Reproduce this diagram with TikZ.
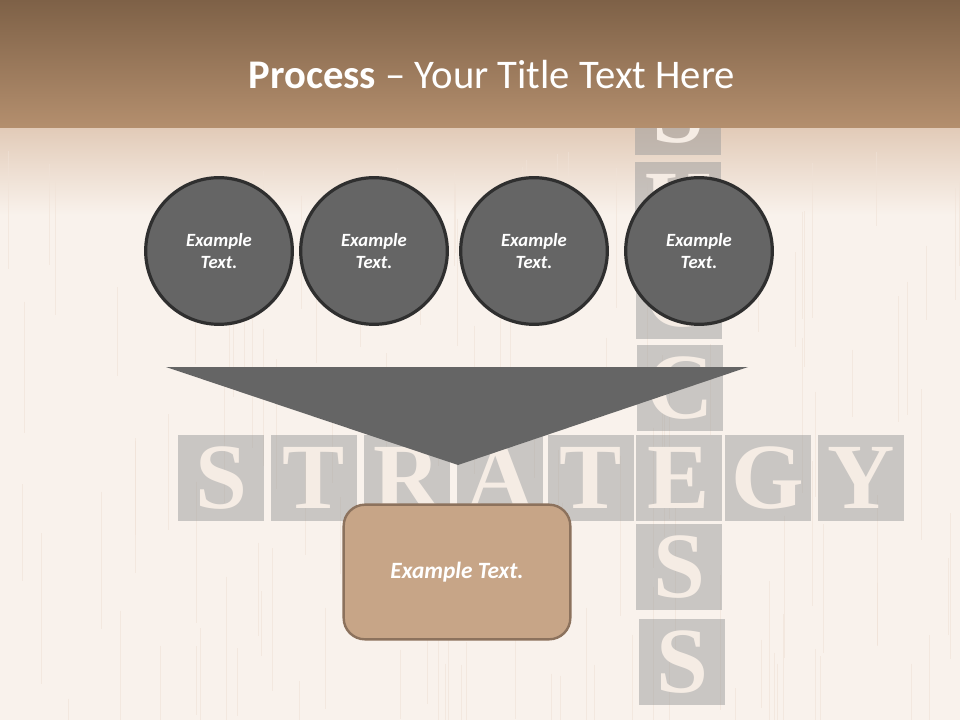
\documentclass[tikz,border=0pt]{standalone}
\usepackage{fontspec}
\setmainfont{Carlito}
\newfontfamily\tilefont{Liberation Serif}
\usetikzlibrary{positioning}
\definecolor{bgcream}{HTML}{F9F2EC}
\definecolor{grain}{HTML}{F0E2D7}
\definecolor{headtop}{HTML}{7E6147}
\definecolor{headbot}{HTML}{B48F6E}
\definecolor{shadetop}{HTML}{E2CBB8}
\definecolor{tilegray}{HTML}{9B9B9B}
\definecolor{lettercream}{HTML}{F5ECE4}
\definecolor{circfill}{HTML}{656565}
\definecolor{circline}{HTML}{2F2F2F}
\definecolor{boxfill}{HTML}{C7A587}
\definecolor{boxline}{HTML}{8C725D}
\tikzset{
  tile/.style={fill=tilegray, fill opacity=0.5, text opacity=1, text=lettercream,
    minimum size=65pt, inner sep=0pt,
    font=\tilefont\bfseries\fontsize{70}{70}\selectfont},
  bubble/.style={circle, fill=circfill, draw=circline, line width=2.4pt,
    minimum size=110pt, inner sep=0pt, text=white, align=center,
    font=\bfseries\itshape\fontsize{14}{17}\selectfont},
  resultbox/.style={rectangle, rounded corners=16pt, fill=boxfill, draw=boxline,
    line width=1.8pt, minimum width=170pt, minimum height=101pt, text=white,
    font=\bfseries\itshape\fontsize{17.5}{20}\selectfont}
}
\begin{document}
\begin{tikzpicture}[x=0.75pt,y=-0.75pt]
  \useasboundingbox (0,0) rectangle (960,720);
  % background
  \fill[bgcream] (0,0) rectangle (960,720);
  \fill[top color=shadetop, bottom color=bgcream] (0,128) rectangle (960,215);
  \pgfmathsetseed{17}
  \foreach \i in {1,...,120}{
    \pgfmathsetmacro{\gx}{960*rnd}
    \pgfmathsetmacro{\gy}{140+560*rnd}
    \draw[grain, line width=0.4pt, opacity=0.6] (\gx,\gy) -- ++(0,60+100*rnd);
  }
  % letter tiles
  \foreach \l/\x in {S/221,T/314,R/407,A/500,T/591,E/679,G/768,Y/861}
    \node[tile] (row\x) at (\x,478) {\l};
  \foreach \l/\x/\y in {S/678/112,U/678/205,C/679/296,C/680/388,S/679/567,S/682/662}
    \node[tile] (col\y) at (\x,\y) {\l};
  % header
  \fill[top color=headtop, bottom color=headbot] (0,0) rectangle (960,128);
  \node[text=white, font=\fontsize{30.5}{36}\selectfont] (title) at (492,75)
    {\textbf{Process} -- Your Title Text Here};
  % steps
  \node[bubble] (c1) at (219,251) {Example\\Text.};
  \node[bubble] (c2) at (374,251) {Example\\Text.};
  \node[bubble] (c3) at (534,251) {Example\\Text.};
  \node[bubble] (c4) at (699,251) {Example\\Text.};
  % funnel
  \fill[circfill] (166,367) -- (748,367) -- (458,465) -- cycle;
  \node[resultbox] (result) at (457,572) {Example Text.};
\end{tikzpicture}
\end{document}
